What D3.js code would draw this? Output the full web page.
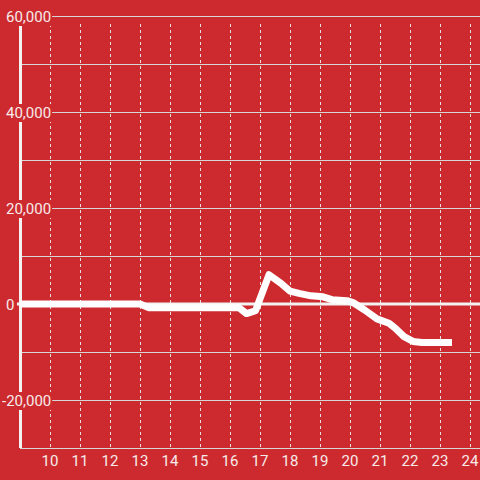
<!DOCTYPE html>
<html>
<head>
<meta charset="utf-8">
<script src="https://cdn.jsdelivr.net/npm/d3@7/dist/d3.min.js"></script>
<style>
html,body{margin:0;padding:0;background:#cd2a2f;}
svg{display:block;}
text{font-family:Roboto, "Liberation Sans", sans-serif;}
</style>
</head>
<body>
<svg id="chart" width="480" height="480"></svg>
<script>
// ---- data ----
const xValues = [9, 13, 13.3, 16.3, 16.55, 16.85, 17.3, 17.7, 18, 18.3, 18.7, 19.1, 19.4, 19.9, 20.1, 20.5, 20.9, 21.3, 21.5, 21.8, 22.1, 22.4, 23.4];
const yValues = [0, 0, -800, -800, -2000, -1400, 6100, 4300, 2700, 2200, 1700, 1500, 900, 700, 300, -1300, -3100, -4000, -5000, -6800, -7800, -8000, -8000];
const xTicks = [10, 11, 12, 13, 14, 15, 16, 17, 18, 19, 20, 21, 22, 23, 24];
const yGridTicks = [60000, 50000, 40000, 30000, 20000, 10000, -10000, -20000];
const yLabelTicks = [60000, 40000, 20000, 0, -20000];

const W = 480, H = 480;
const svg = d3.select("#chart");
svg.append("rect").attr("width", W).attr("height", H).attr("fill", "#cd2a2f");

const x = d3.scaleLinear().domain([9, 24 + 1/3]).range([20, 480]);
const y = d3.scaleLinear().domain([-30000, 60000]).range([448, 16]);

// horizontal grid
svg.append("g").selectAll("line").data(yGridTicks).join("line")
  .attr("x1", 20).attr("x2", W)
  .attr("y1", d => y(d) + 0.5).attr("y2", d => y(d) + 0.5)
  .attr("stroke", "#d6d6d6").attr("stroke-width", 1);

// vertical dashed grid
svg.append("g").selectAll("line").data(xTicks).join("line")
  .attr("x1", d => Math.round(x(d)) + 0.5).attr("x2", d => Math.round(x(d)) + 0.5)
  .attr("y1", 24).attr("y2", 448)
  .attr("stroke", "#e0e0e0").attr("stroke-width", 1)
  .attr("stroke-dasharray", "3,3");

// bottom axis line
svg.append("line").attr("x1", 20).attr("x2", W)
  .attr("y1", y(-30000) + 0.5).attr("y2", y(-30000) + 0.5)
  .attr("stroke", "#d6d6d6").attr("stroke-width", 1);

// zero line
svg.append("line").attr("x1", 17).attr("x2", W)
  .attr("y1", y(0)).attr("y2", y(0))
  .attr("stroke", "#f2f2f2").attr("stroke-width", 3);

// y axis line
svg.append("line").attr("x1", 20.5).attr("x2", 20.5)
  .attr("y1", 24).attr("y2", 448)
  .attr("stroke", "#f2f2f2").attr("stroke-width", 3);

// y labels with background
const fmt = d3.format(",");
const yl = svg.append("g");
yLabelTicks.forEach(v => {
  const g = yl.append("g");
  const t = g.append("text")
    .attr("x", v < 0 ? 2 : 6)
    .attr("y", y(v) + 6)
    .attr("font-size", 15)
    .attr("fill", "#f6eaea")
    .text(fmt(v).replace("−", "-"));
  const bb = t.node().getBBox();
  g.insert("rect", "text")
    .attr("x", bb.x - 1).attr("y", bb.y)
    .attr("width", bb.width + 2).attr("height", bb.height)
    .attr("fill", "#cd2a2f");
});

// x labels
svg.append("g").selectAll("text").data(xTicks).join("text")
  .attr("x", d => x(d)).attr("y", 466)
  .attr("text-anchor", "middle")
  .attr("font-size", 15)
  .attr("fill", "#f6eaea")
  .text(d => d);

// data line
const pts = xValues.map((v, i) => [v, yValues[i]]);
const line = d3.line().x(d => x(d[0])).y(d => y(d[1])).curve(d3.curveLinear);
svg.append("path").datum(pts)
  .attr("d", line)
  .attr("fill", "none")
  .attr("stroke", "#ffffff")
  .attr("stroke-width", 7)
  .attr("stroke-linejoin", "round")
  .attr("stroke-linecap", "butt");
</script>
</body>
</html>
